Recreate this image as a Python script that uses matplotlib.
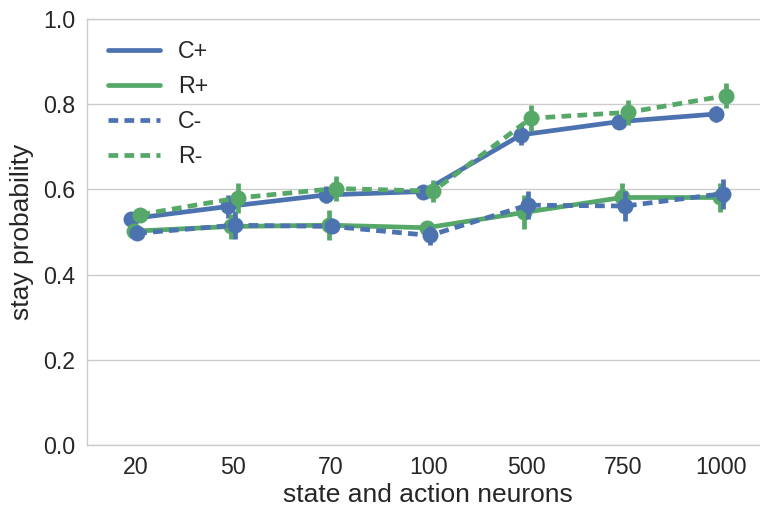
import matplotlib
matplotlib.use("Agg")
import matplotlib.pyplot as plt
import numpy as np

categories = ["20", "50", "70", "100", "500", "750", "1000"]
series_names = ["C+", "R+", "C-", "R-"]
c_plus = [0.531, 0.560, 0.587, 0.595, 0.728, 0.759, 0.777]
r_plus = [0.502, 0.513, 0.516, 0.510, 0.546, 0.581, 0.581]
c_minus = [0.497, 0.516, 0.513, 0.492, 0.563, 0.561, 0.590]
r_minus = [0.541, 0.580, 0.602, 0.596, 0.767, 0.781, 0.820]
c_plus_err = [0.012, 0.027, 0.020, 0.012, 0.024, 0.013, 0.018]
r_plus_err = [0.012, 0.030, 0.035, 0.015, 0.040, 0.035, 0.035]
c_minus_err = [0.012, 0.033, 0.015, 0.023, 0.033, 0.035, 0.035]
r_minus_err = [0.012, 0.035, 0.030, 0.025, 0.030, 0.030, 0.030]
y_ticks = [0.0, 0.2, 0.4, 0.6, 0.8, 1.0]

blue = "#4C72B0"
green = "#55A868"
values = [c_plus, r_plus, c_minus, r_minus]
errors = [c_plus_err, r_plus_err, c_minus_err, r_minus_err]
colors = [blue, green, blue, green]
dashed = [False, False, True, True]

plt.rcParams["font.family"] = ["Liberation Sans", "DejaVu Sans"]
plt.rcParams["lines.scale_dashes"] = False
plt.rcParams["lines.solid_capstyle"] = "round"

fig = plt.figure(figsize=(7.6, 5.12), dpi=100)
# the axes runs slightly past the right edge of the figure, as in the reference
ax = fig.add_axes([86.7 / 760, 67 / 512, 683.3 / 760, 426 / 512])

text_color = "#262626"
fs_tick = 16.7
fs_label = 19
lw = 3.4
x = np.arange(len(categories))
offsets = np.linspace(-0.05, 0.05, len(series_names))

for i, (name, vals, errs, col, dsh) in enumerate(zip(series_names, values, errors, colors, dashed)):
    xs = x + offsets[i]
    vals = np.array(vals)
    errs = np.array(errs)
    kw = dict(color=col, lw=lw, zorder=3 + i)
    if dsh:
        ax.plot(xs, vals, linestyle=(0, (7, 4.5)), label=name, **kw)
    else:
        ax.plot(xs, vals, linestyle="-", label=name, **kw)
    for xi, v, e in zip(xs, vals, errs):
        ax.plot([xi, xi], [v - e, v + e], color=col, lw=lw, solid_capstyle="butt", zorder=3 + i)
    ax.plot(xs, vals, linestyle="none", marker="o", markersize=11.5, color=col,
            markeredgewidth=0, zorder=3 + i)

ax.set_xlim(-0.5, len(categories) - 0.5)
ax.set_ylim(0, 1)
ax.set_xticks(x)
ax.set_xticklabels(categories)
ax.set_yticks(y_ticks)
ax.set_yticklabels([f"{t:.1f}" for t in y_ticks])
ax.grid(axis="y", color="#CCCCCC", lw=1.0)
ax.set_axisbelow(True)
for s in ax.spines.values():
    s.set_color("#CCCCCC")
    s.set_linewidth(1.0)
ax.tick_params(axis="both", length=0, labelsize=fs_tick, labelcolor=text_color, pad=8)
ax.set_xlabel("state and action neurons", fontsize=fs_label, color=text_color, labelpad=3)
ax.set_ylabel("stay probability", fontsize=fs_label, color=text_color, labelpad=7)

leg = ax.legend(loc="upper left", frameon=False, fontsize=fs_tick, handlelength=2.24,
                handletextpad=0.8, labelspacing=0.52, borderaxespad=0.5, borderpad=0.4)
for t in leg.get_texts():
    t.set_color(text_color)

fig.savefig("out.png", dpi=100)
